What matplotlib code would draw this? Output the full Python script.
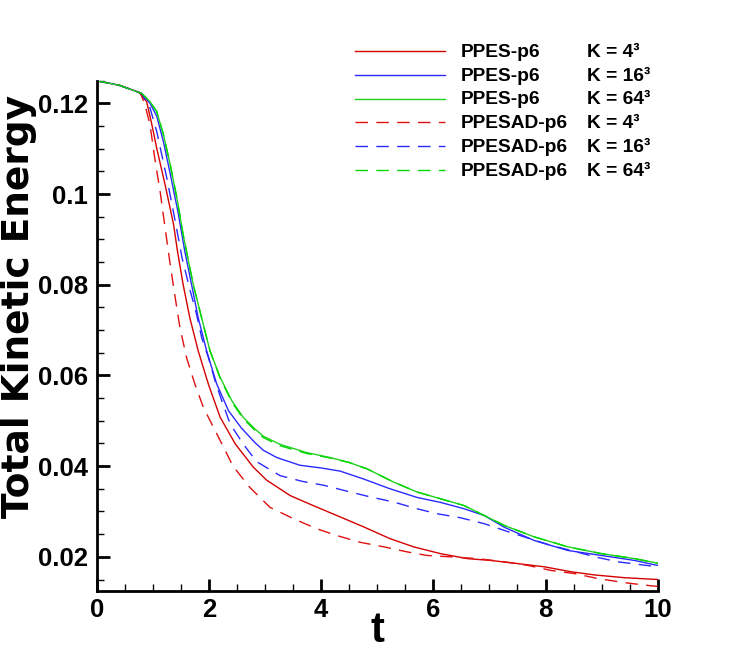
import matplotlib
matplotlib.use('Agg')
import matplotlib.pyplot as plt
from matplotlib.ticker import MultipleLocator, FuncFormatter
from matplotlib.lines import Line2D

# ======================================================================================================================
# Data (t, total kinetic energy)
# ======================================================================================================================
t_ppes_4 = [0, 0.4, 0.75, 0.89, 0.98, 1.07, 1.22, 1.37, 1.44, 1.54, 1.66, 1.81, 1.99, 2.20, 2.47, 2.79, 3.03,
            3.45, 3.86, 4.34, 4.76, 5.23, 5.65, 6.13, 6.61, 7.03, 7.51, 7.98, 8.46, 8.88, 9.41, 10]
e_ppes_4 = [0.125, 0.1240, 0.1225, 0.1204, 0.1155, 0.1101, 0.1020, 0.0933, 0.0874, 0.0801, 0.0727, 0.0654,
            0.0581, 0.0508, 0.0449, 0.0398, 0.0369, 0.0335, 0.0313, 0.0288, 0.0266, 0.0240, 0.0222, 0.0207,
            0.0196, 0.0192, 0.0185, 0.0178, 0.0167, 0.0160, 0.0154, 0.0150]

t_ppes_16 = [0, 0.4, 0.8, 0.95, 1.07, 1.19, 1.31, 1.45, 1.57, 1.69, 1.81, 1.96, 2.14, 2.35, 2.58, 2.82, 2.97,
             3.21, 3.62, 4.0, 4.34, 4.75, 5.23, 5.71, 6.13, 6.55, 6.91, 7.27, 7.8, 8.4, 9.0, 9.59, 10]
e_ppes_16 = [0.125, 0.1240, 0.1222, 0.1200, 0.1172, 0.1115, 0.1045, 0.0960, 0.0874, 0.0801, 0.0727, 0.0654,
             0.0581, 0.0522, 0.0484, 0.0452, 0.0435, 0.0419, 0.0402, 0.0396, 0.0389, 0.0372, 0.0350, 0.0331,
             0.0320, 0.0306, 0.0291, 0.0265, 0.0236, 0.0214, 0.0203, 0.0192, 0.0181]

t_ppes_64 = [0, 0.4, 0.8, 0.95, 1.07, 1.19, 1.31, 1.43, 1.54, 1.60, 1.72, 1.87, 2.02, 2.20, 2.41, 2.61, 2.82,
             2.97, 3.27, 3.74, 4.16, 4.5, 4.82, 5.29, 5.71, 6.13, 6.55, 6.91, 7.27, 7.8, 8.4, 9.0, 9.59, 10]
e_ppes_64 = [0.125, 0.1240, 0.1222, 0.1204, 0.1182, 0.1131, 0.1065, 0.0991, 0.0911, 0.0874, 0.0801, 0.0727,
             0.0654, 0.0596, 0.0544, 0.0508, 0.0482, 0.0466, 0.0448, 0.0430, 0.0419, 0.0408, 0.0394, 0.0365,
             0.0343, 0.0328, 0.0313, 0.0291, 0.0269, 0.0244, 0.0222, 0.0207, 0.0196, 0.0186]

t_ppesad_4 = [0, 0.4, 0.78, 0.86, 0.95, 1.04, 1.13, 1.22, 1.31, 1.40, 1.48, 1.60, 1.75, 1.90, 2.08, 2.26, 2.43,
              2.73, 3.09, 3.51, 3.92, 4.28, 4.70, 5.12, 5.53, 5.89, 6.31, 6.79, 7.27, 7.69, 8.10, 8.52, 8.94,
              9.41, 9.89, 10]
e_ppesad_4 = [0.125, 0.1240, 0.1223, 0.1197, 0.1153, 0.1075, 0.1006, 0.0925, 0.0845, 0.0771, 0.0708, 0.0640,
              0.0581, 0.0530, 0.0486, 0.0442, 0.0400, 0.0353, 0.0309, 0.0284, 0.0262, 0.0247, 0.0232, 0.0222,
              0.0211, 0.0203, 0.0200, 0.0196, 0.0189, 0.0181, 0.0170, 0.0163, 0.0152, 0.0143, 0.0136, 0.0135]

t_ppesad_16 = [0, 0.4, 0.8, 0.95, 1.07, 1.25, 1.40, 1.52, 1.66, 1.78, 1.87, 1.99, 2.11, 2.23, 2.38, 2.61, 2.85,
               3.27, 3.68, 4.04, 4.52, 4.88, 5.29, 5.71, 6.07, 6.49, 6.91, 7.27, 7.62, 8.10, 8.46, 8.88, 9.29, 10]
e_ppesad_16 = [0.125, 0.1240, 0.1222, 0.1190, 0.1138, 0.1035, 0.0940, 0.0860, 0.0790, 0.0735, 0.0684, 0.0640,
               0.0588, 0.0544, 0.0493, 0.0449, 0.0410, 0.0379, 0.0366, 0.0358, 0.0343, 0.0332, 0.0321, 0.0306,
               0.0295, 0.0286, 0.0273, 0.0258, 0.0244, 0.0225, 0.0214, 0.0200, 0.0189, 0.0178]

t_ppesad_64 = t_ppes_64
e_ppesad_64 = [0.125, 0.1240, 0.1222, 0.1204, 0.1182, 0.1131, 0.1065, 0.0991, 0.0911, 0.0874, 0.0801, 0.0727,
               0.0654, 0.0594, 0.0541, 0.0505, 0.0479, 0.0463, 0.0445, 0.0428, 0.0418, 0.0408, 0.0394, 0.0365,
               0.0343, 0.0328, 0.0313, 0.0291, 0.0269, 0.0244, 0.0222, 0.0207, 0.0196, 0.0186]

names = ['PPES-p6', 'PPES-p6', 'PPES-p6', 'PPESAD-p6', 'PPESAD-p6', 'PPESAD-p6']
k_labels = ['K = 4\u00b3', 'K = 16\u00b3', 'K = 64\u00b3', 'K = 4\u00b3', 'K = 16\u00b3', 'K = 64\u00b3']
colors = ['#d40000', '#2a2aff', '#22d022', '#e01010', '#2a2aff', '#00d800']
dashed = (0, (9, 6))
styles = ['-', '-', '-', dashed, dashed, dashed]
t_all = [t_ppes_4, t_ppes_16, t_ppes_64, t_ppesad_4, t_ppesad_16, t_ppesad_64]
e_all = [e_ppes_4, e_ppes_16, e_ppes_64, e_ppesad_4, e_ppesad_16, e_ppesad_64]

plt.rcParams['font.family'] = ['Liberation Sans', 'DejaVu Sans']
plt.rcParams['font.weight'] = 'bold'

W, H = 747, 665
fig = plt.figure(figsize=(W / 100, H / 100), dpi=100)
ax = fig.add_axes([96.7 / W, 1 - 591.3 / H, 561 / W, 510.6 / H])

for t, e, c, ls in zip(t_all, e_all, colors, styles):
    ax.plot(t, e, color=c, linestyle=ls, lw=1.0)

ax.set_xlim(0, 10)
ax.set_ylim(0.0124, 0.125)
ax.xaxis.set_major_locator(MultipleLocator(2))
ax.xaxis.set_minor_locator(MultipleLocator(0.5))
ax.yaxis.set_major_locator(MultipleLocator(0.02))
ax.yaxis.set_minor_locator(MultipleLocator(0.005))
ax.yaxis.set_major_formatter(FuncFormatter(lambda v, p: '%g' % round(v, 3)))
ax.tick_params(which='major', direction='in', length=9, width=2, labelsize=18.5)
ax.tick_params(which='minor', direction='in', length=5, width=1)
ax.tick_params(axis='x', which='major', pad=5)
ax.tick_params(axis='y', which='major', pad=6)
for s in ['top', 'right']:
    ax.spines[s].set_visible(False)
for s in ['left', 'bottom']:
    ax.spines[s].set_linewidth(2)

ax.set_xlabel('t', fontsize=30, fontweight='bold', va='baseline')
ax.xaxis.set_label_coords(0.5, (591.3 - 642) / 510.6)
# wider face so the label spans the same length as in the reference
ax.set_ylabel('Total Kinetic Energy', fontsize=27, fontweight='bold', va='baseline', family='DejaVu Sans')
ax.yaxis.set_label_coords((29 - 96.7) / 561, (591.3 - 306) / 510.6)

# legend drawn by hand so the K column lines up
row0, row_step = 50.7, 23.9
for i in range(6):
    y_px = row0 + i * row_step
    fig.add_artist(Line2D([355 / W, 445 / W], [1 - y_px / H, 1 - y_px / H], color=colors[i],
                          linestyle=styles[i], lw=1.0))
    fig.text(460.7 / W, 1 - (y_px + 6) / H, names[i], fontsize=13.8, fontweight='bold', va='baseline')
    fig.text(587 / W, 1 - (y_px + 6) / H, k_labels[i], fontsize=13.8, fontweight='bold', va='baseline')

fig.savefig('out.png', dpi=100)
